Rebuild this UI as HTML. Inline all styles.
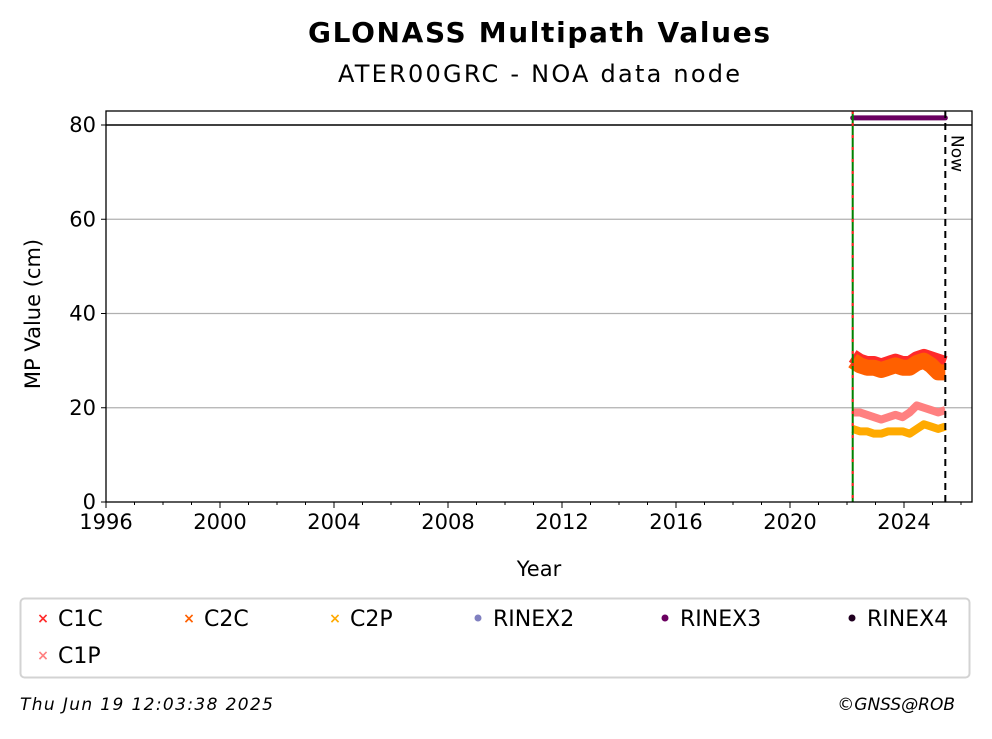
<!DOCTYPE html>
<html><head><meta charset="utf-8"><style>
body{margin:0;background:#fff;width:992px;height:734px;overflow:hidden}
svg text{font-family:"DejaVu Sans","Liberation Sans",sans-serif}
</style></head><body>
<svg id="c" width="992" height="734" xmlns="http://www.w3.org/2000/svg">
<text x="539" y="42" text-anchor="middle" font-size="28" font-weight="bold" textLength="462">GLONASS Multipath Values</text>
<text x="539" y="82" text-anchor="middle" font-size="24" textLength="402">ATER00GRC - NOA data node</text>
<g id="grid"></g>
<g id="marks"></g>
<g id="axes"></g>
<text x="539" y="576" text-anchor="middle" font-size="21">Year</text>
<text transform="translate(40,314) rotate(-90)" text-anchor="middle" font-size="21">MP Value (cm)</text>
<rect x="20.5" y="598.5" width="949" height="79" rx="4" fill="#fff" stroke="#d3d3d3" stroke-width="2"/>
<g id="legend"></g>
<text x="20" y="710" font-size="17" font-style="italic" textLength="253">Thu Jun 19 12:03:38 2025</text>
<text x="955" y="710" text-anchor="end" font-size="17" font-style="italic">©GNSS@ROB</text>
</svg>
<script>
const years=[2022.2,2022.45,2022.7,2022.95,2023.2,2023.45,2023.7,2023.95,2024.2,2024.45,2024.7,2024.95,2025.2,2025.45];
const c1c=[31,30,29.5,29.5,29,29.5,30,29.5,29.5,30.5,31,30.5,30,29.5];
const c2c=[30,29,28.5,28.5,28,28.5,29,28.5,28.5,29.5,30,29,27.5,27.5];
const c1p=[19,19,18.5,18,17.5,18,18.5,18,19,20.5,20,19.5,19,19.5];
const c2p=[15.5,15,15,14.5,14.5,15,15,15,14.5,15.5,16.5,16,15.5,16];
const rinex3=[81.5,81.5];
const rinex3Years=[2022.2,2025.45];
const xTicks=[1996,2000,2004,2008,2012,2016,2020,2024];
const yTicks=[0,20,40,60,80];
const startYear=2022.2, nowYear=2025.45;
const X0=106,X1=972,Y0=111,Y1=502;
const x=v=>X0+(v-1996)*28.5;
const y=v=>502-v*4.7125;
const NS="http://www.w3.org/2000/svg";
function el(p,t,a){const e=document.createElementNS(NS,t);for(const k in a)e.setAttribute(k,a[k]);p.appendChild(e);return e;}
const grid=document.getElementById('grid'),axes=document.getElementById('axes'),marks=document.getElementById('marks');
yTicks.forEach(t=>{if(t>0){const l=el(grid,'line',{x1:X0,x2:X1,y1:y(t),y2:y(t),stroke:t==80?'#000':'#b0b0b0','stroke-width':t==80?1.5:1.2});

}});
function band(vals,col,w,name){const pts=years.map((yr,i)=>x(yr)+','+y(vals[i])).join(' ');
const p=el(marks,'polyline',{points:pts,fill:'none',stroke:col,'stroke-width':w,'stroke-linejoin':'round','stroke-linecap':'butt'});

}
band(c1c,'#ff2a2a',14,'series-c1c');
band(c2c,'#ff6000',16,'series-c2c');
band(c2p,'#ffaa00',8,'series-c2p');
band(c1p,'#ff8080',8,'series-c1p');
const r=el(marks,'line',{x1:x(rinex3Years[0]),x2:x(rinex3Years[1]),y1:y(rinex3[0]),y2:y(rinex3[1]),stroke:'#6a0060','stroke-width':5,'stroke-linecap':'round'});


const s1=el(marks,'line',{x1:x(startYear),x2:x(startYear),y1:Y0,y2:Y1,stroke:'#008000','stroke-width':2});


const s2=el(marks,'line',{x1:x(startYear),x2:x(startYear),y1:Y0,y2:Y1,stroke:'#ff2020','stroke-width':2,'stroke-dasharray':'3,9'});


const nl=el(marks,'line',{x1:x(nowYear),x2:x(nowYear),y1:Y0,y2:Y1,stroke:'#000','stroke-width':2,'stroke-dasharray':'7,5'});


const nt=el(marks,'text',{transform:`translate(${x(nowYear)+6},135) rotate(90)`,'font-size':17});
nt.textContent='Now';


const fr=el(axes,'rect',{x:X0,y:Y0,width:X1-X0,height:Y1-Y0,fill:'none',stroke:'#000','stroke-width':1.3});


yTicks.forEach(t=>{el(axes,'line',{x1:X0-5,x2:X0,y1:y(t),y2:y(t),stroke:'#000'});
const tx=el(axes,'text',{x:X0-10,y:y(t)+7,'text-anchor':'end','font-size':21});tx.textContent=t;

});
for(let yr=1996;yr<=2026;yr++){el(axes,'line',{x1:x(yr),x2:x(yr),y1:Y1,y2:Y1+(xTicks.includes(yr)?6:3),stroke:'#000'});}
xTicks.forEach(t=>{const tx=el(axes,'text',{x:x(t),y:Y1+27,'text-anchor':'middle','font-size':21});tx.textContent=t;

});
const legendNames=['C1C','C2C','C2P','RINEX2','RINEX3','RINEX4','C1P'];
const legendCols=['#ff2a2a','#ff6000','#ffaa00','#8080c0','#6a0060','#200020','#ff8080'];
const legendX=[43,189,335,478,665,852,43];
const lg=document.getElementById('legend');
legendNames.forEach((n,i)=>{const row=i<6?0:1;const lx=legendX[i],ly=618+row*37;
const g=el(lg,'g',{});


if(n.startsWith('RINEX'))el(g,'circle',{cx:lx,cy:ly,r:3.5,fill:legendCols[i]});
else el(g,'text',{x:lx,y:ly+5,'text-anchor':'middle','font-size':14,fill:legendCols[i],'font-weight':'bold'}).textContent='×';
const t=el(g,'text',{x:lx+15,y:ly+8,'font-size':22});t.textContent=n;});
</script>
</body></html>
